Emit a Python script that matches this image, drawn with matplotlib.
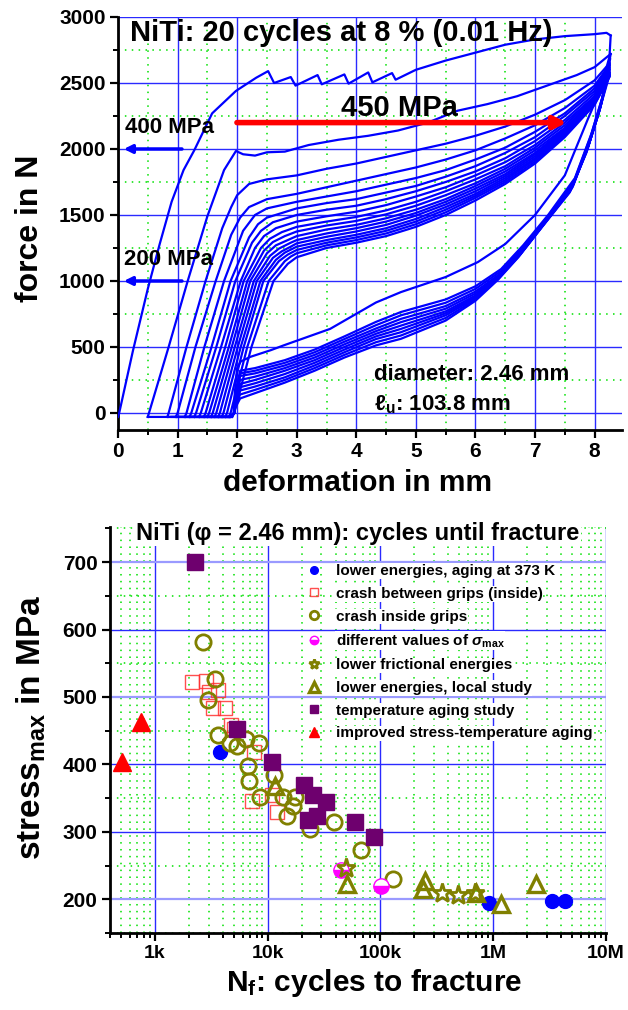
import matplotlib
matplotlib.use("Agg")
import matplotlib.pyplot as plt
from matplotlib.ticker import MultipleLocator, LogLocator, FixedLocator, NullFormatter

plt.rcParams["font.family"] = ["Liberation Sans", "DejaVu Sans"]
plt.rcParams["font.weight"] = "bold"
plt.rcParams["mathtext.fontset"] = "custom"
plt.rcParams["mathtext.rm"] = "Liberation Sans"
plt.rcParams["mathtext.it"] = "Liberation Sans:italic"
plt.rcParams["mathtext.bf"] = "Liberation Sans:bold"

CURVE = "#0000ff"
GRID_BLUE = "#2a2aff"
GRID_LIGHT = "#9a9aff"
GRID_GREEN = "#00e000"

# ---------------- top panel: force vs deformation (20 cycles) ----------------
# loading branches, (deformation mm, force N)
loading = [
    [(0, -30), (0.02, 0), (0.25, 470), (0.5, 940), (0.7, 1280), (0.9, 1600), (1.1, 1840),
     (1.28, 1990), (1.58, 2270), (1.98, 2440), (2.32, 2540), (2.52, 2590), (2.62, 2500),
     (2.9, 2545), (2.98, 2480), (3.35, 2560), (3.42, 2490), (3.8, 2565), (3.87, 2495),
     (4.2, 2580), (4.27, 2505), (4.6, 2575), (4.66, 2525), (5.0, 2600), (5.5, 2670),
     (6.0, 2730), (6.5, 2790), (7.0, 2830), (7.5, 2855), (8.0, 2870), (8.2, 2880), (8.27, 2860)],
    [(0.5, -30), (0.52, 0), (0.85, 500), (1.17, 1000), (1.5, 1490), (1.78, 1840), (1.98, 1985),
     (2.1, 1960), (2.3, 1950), (2.5, 1975), (2.8, 1980), (3.2, 2030), (3.7, 2070), (4.2, 2100),
     (4.7, 2140), (5.2, 2200), (5.7, 2290), (6.2, 2340), (6.7, 2400), (7.2, 2480), (7.7, 2560),
     (8.0, 2620), (8.27, 2720)],
    [(0.83, -30), (0.85, 0), (1.15, 500), (1.47, 1000), (1.75, 1400), (1.9, 1560), (2.0, 1650),
     (2.2, 1735), (2.5, 1770), (3.0, 1800), (3.5, 1850), (4.0, 1890), (4.5, 1940), (5.0, 1990),
     (5.5, 2040), (6.0, 2100), (6.5, 2170), (7.0, 2260), (7.5, 2370), (8.0, 2520), (8.25, 2650)],
    [(0.97, -30), (1.0, 0), (1.3, 500), (1.64, 1000), (1.9, 1350), (2.05, 1480), (2.2, 1560),
     (2.5, 1620), (3.0, 1660), (3.5, 1710), (4.0, 1760), (4.5, 1810), (5.0, 1860), (5.5, 1920),
     (6.0, 1990), (6.5, 2080), (7.0, 2180), (7.5, 2310), (8.0, 2480), (8.25, 2640)],
    [(1.12, -30), (1.15, 0), (1.45, 500), (1.78, 1000), (2.1, 1380), (2.3, 1500), (2.5, 1550),
     (3.0, 1600), (3.5, 1640), (4.0, 1680), (4.5, 1730), (5.0, 1780), (5.5, 1840), (6.0, 1920),
     (6.5, 2010), (7.0, 2130), (7.5, 2270), (8.0, 2460), (8.25, 2630)],
    [(1.2, -30), (1.23, 0), (1.57, 500), (1.89, 1000), (2.2, 1330), (2.35, 1430), (2.5, 1480),
     (3.0, 1550), (3.5, 1590), (4.0, 1620), (4.5, 1670), (5.0, 1720), (5.5, 1790), (6.0, 1870),
     (6.5, 1970), (7.0, 2090), (7.5, 2250), (8.0, 2440), (8.25, 2620)],
    [(1.28, -30), (1.31, 0), (1.65, 500), (1.97, 1000), (2.25, 1290), (2.4, 1380), (2.6, 1445),
     (3.0, 1500), (3.5, 1540), (4.0, 1570), (4.5, 1620), (5.0, 1680), (5.5, 1750), (6.0, 1830),
     (6.5, 1930), (7.0, 2060), (7.5, 2220), (8.0, 2420), (8.25, 2610)],
    [(1.36, -30), (1.39, 0), (1.73, 500), (2.06, 1000), (2.3, 1250), (2.45, 1340), (2.65, 1400),
     (3.0, 1450), (3.5, 1490), (4.0, 1525), (4.5, 1575), (5.0, 1640), (5.5, 1710), (6.0, 1800),
     (6.5, 1900), (7.0, 2030), (7.5, 2200), (8.0, 2400), (8.25, 2600)],
    [(1.44, -30), (1.47, 0), (1.8, 500), (2.11, 1000), (2.4, 1250), (2.55, 1320), (2.75, 1370),
     (3.0, 1410), (3.5, 1450), (4.0, 1485), (4.5, 1535), (5.0, 1600), (5.5, 1680), (6.0, 1770),
     (6.5, 1870), (7.0, 2010), (7.5, 2180), (8.0, 2390), (8.25, 2590)],
    [(1.5, -30), (1.53, 0), (1.86, 500), (2.17, 1000), (2.45, 1230), (2.6, 1295), (2.8, 1340),
     (3.0, 1375), (3.5, 1420), (4.0, 1455), (4.5, 1505), (5.0, 1570), (5.5, 1650), (6.0, 1740),
     (6.5, 1850), (7.0, 1990), (7.5, 2160), (8.0, 2380), (8.25, 2580)],
    [(1.56, -30), (1.59, 0), (1.91, 500), (2.22, 1000), (2.5, 1210), (2.65, 1270), (2.85, 1310),
     (3.0, 1340), (3.5, 1390), (4.0, 1425), (4.5, 1475), (5.0, 1540), (5.5, 1620), (6.0, 1720),
     (6.5, 1830), (7.0, 1970), (7.5, 2150), (8.0, 2370), (8.25, 2575)],
    [(1.62, -30), (1.65, 0), (1.96, 500), (2.28, 1000), (2.55, 1190), (2.7, 1245), (2.9, 1290),
     (3.0, 1310), (3.5, 1360), (4.0, 1400), (4.5, 1450), (5.0, 1515), (5.5, 1600), (6.0, 1700),
     (6.5, 1810), (7.0, 1960), (7.5, 2140), (8.0, 2360), (8.25, 2570)],
    [(1.68, -30), (1.71, 0), (2.01, 500), (2.33, 1000), (2.6, 1175), (2.75, 1225), (2.9, 1260),
     (3.0, 1285), (3.5, 1335), (4.0, 1375), (4.5, 1425), (5.0, 1495), (5.5, 1580), (6.0, 1680),
     (6.5, 1795), (7.0, 1945), (7.5, 2130), (8.0, 2355), (8.25, 2565)],
    [(1.74, -30), (1.77, 0), (2.06, 500), (2.39, 1000), (2.65, 1160), (2.8, 1215), (3.0, 1260),
     (3.5, 1310), (4.0, 1350), (4.5, 1400), (5.0, 1470), (5.5, 1560), (6.0, 1660), (6.5, 1780),
     (7.0, 1930), (7.5, 2120), (8.0, 2350), (8.25, 2560)],
    [(1.8, -30), (1.83, 0), (2.11, 500), (2.44, 1000), (2.7, 1150), (2.85, 1200), (3.0, 1235),
     (3.5, 1290), (4.0, 1330), (4.5, 1380), (5.0, 1450), (5.5, 1540), (6.0, 1645), (6.5, 1765),
     (7.0, 1920), (7.5, 2110), (8.0, 2345), (8.25, 2555)],
    [(1.86, -30), (1.89, 0), (2.17, 500), (2.53, 1000), (2.8, 1150), (2.9, 1185), (3.0, 1210),
     (3.5, 1270), (4.0, 1310), (4.5, 1360), (5.0, 1430), (5.5, 1520), (6.0, 1630), (6.5, 1750),
     (7.0, 1905), (7.5, 2100), (8.0, 2340), (8.25, 2550)],
    [(1.92, -30), (1.95, 0), (2.24, 500), (2.61, 1000), (2.85, 1130), (3.0, 1180),
     (3.5, 1250), (4.0, 1290), (4.5, 1340), (5.0, 1410), (5.5, 1500), (6.0, 1610), (6.5, 1735),
     (7.0, 1890), (7.5, 2090), (8.0, 2335), (8.25, 2545)],
]

# unloading branches, (deformation mm, force N)
unloading = [
    [(8.27, 2860), (8.25, 2700), (8.1, 2450), (7.89, 2230), (7.5, 1800), (7.0, 1500), (6.5, 1280),
     (6.04, 1143), (5.5, 1030), (4.75, 916), (4.33, 837), (3.56, 637), (2.78, 512), (2.56, 475),
     (2.22, 425), (2.06, 390), (2.0, 340), (1.96, 150), (1.94, 0), (1.9, -30), (0.5, -30)],
    [(8.27, 2720), (8.15, 2420), (7.95, 2120), (7.67, 1780), (7.22, 1500), (6.8, 1270),
     (6.43, 1090), (6.0, 960), (5.5, 860), (4.75, 765), (4.33, 690), (3.8, 580), (3.3, 480),
     (2.8, 400), (2.3, 340), (2.05, 320), (1.97, 150), (1.95, 0), (1.9, -30), (0.83, -30)],
    [(8.26, 2680), (8.13, 2390), (7.93, 2090), (7.66, 1760), (7.21, 1485), (6.8, 1255),
     (6.43, 1075), (6.0, 940), (5.5, 835), (4.75, 740), (4.33, 665), (3.8, 560), (3.3, 460),
     (2.8, 380), (2.3, 320), (2.05, 300), (1.97, 130), (1.95, 0), (1.9, -30), (0.9, -30)],
    [(8.25, 2650), (8.12, 2360), (7.92, 2060), (7.65, 1740), (7.2, 1470), (6.8, 1240),
     (6.43, 1060), (6.0, 920), (5.5, 810), (4.75, 713), (4.33, 640), (3.8, 540), (3.3, 440),
     (2.8, 360), (2.3, 300), (2.05, 280), (1.97, 120), (1.95, 0), (1.9, -30), (0.97, -30)],
    [(8.25, 2640), (8.11, 2340), (7.91, 2045), (7.64, 1725), (7.19, 1460), (6.79, 1230),
     (6.43, 1050), (6.0, 905), (5.5, 790), (4.75, 688), (4.33, 620), (3.8, 520), (3.3, 420),
     (2.8, 340), (2.3, 275), (2.05, 250), (1.97, 110), (1.95, 0), (1.9, -30), (1.12, -30)],
    [(8.25, 2630), (8.1, 2320), (7.9, 2030), (7.63, 1710), (7.18, 1450), (6.78, 1220),
     (6.43, 1045), (6.0, 890), (5.5, 770), (4.75, 662), (4.33, 600), (3.8, 500), (3.3, 400),
     (2.8, 320), (2.3, 250), (2.05, 220), (1.97, 100), (1.95, 0), (1.9, -30), (1.2, -30)],
    [(8.25, 2615), (8.09, 2305), (7.89, 2015), (7.61, 1700), (7.16, 1440), (6.76, 1210),
     (6.41, 1035), (6.0, 880), (5.5, 755), (4.75, 637), (4.33, 580), (3.8, 480), (3.3, 380),
     (2.8, 295), (2.3, 225), (2.05, 195), (1.97, 80), (1.95, 0), (1.9, -30), (1.36, -30)],
    [(8.25, 2600), (8.08, 2290), (7.88, 2000), (7.6, 1690), (7.15, 1430), (6.75, 1200),
     (6.4, 1030), (6.0, 870), (5.5, 740), (4.75, 612), (4.33, 560), (3.8, 460), (3.3, 360),
     (2.8, 270), (2.3, 200), (2.05, 170), (1.97, 60), (1.95, 0), (1.9, -30), (1.44, -30)],
    [(8.25, 2580), (8.07, 2275), (7.87, 1985), (7.59, 1680), (7.13, 1420), (6.73, 1190),
     (6.39, 1020), (6.0, 860), (5.5, 720), (4.75, 587), (4.33, 536), (3.8, 440), (3.3, 340),
     (2.8, 250), (2.3, 175), (2.05, 140), (1.97, 50), (1.95, 0), (1.9, -30), (1.56, -30)],
    [(8.25, 2560), (8.06, 2260), (7.86, 1970), (7.58, 1670), (7.12, 1410), (6.72, 1180),
     (6.38, 1010), (6.0, 850), (5.5, 700), (4.75, 562), (4.33, 512), (3.8, 420), (3.3, 320),
     (2.8, 230), (2.3, 150), (2.05, 110), (1.97, 40), (1.95, 0), (1.9, -30), (1.68, -30)],
]

# ---------------- bottom panel: cycles until fracture ----------------
blue_n = [3800, 920000, 3300000, 4300000]
blue_s = [418, 194, 197, 197]
sq_n = [2150, 2850, 3000, 3600, 3300, 4200, 4700, 5000, 7500, 7200, 12000, 11000]
sq_s = [522, 523, 508, 511, 483, 483, 458, 452, 419, 345, 329, 355]
circ_n = [2660, 3400, 2950, 3600, 4600, 5300, 6400, 8300, 6650, 6800, 8500, 11300,
          13600, 17400, 16700, 14800, 23500, 39000, 67000, 130000]
circ_s = [581, 527, 495, 443, 432, 427, 438, 432, 397, 376, 351, 385,
          352, 352, 338, 324, 304, 314, 273, 230]
mag_n = [45000, 102000]
mag_s = [243, 219]
star_n = [50000, 350000, 490000, 690000]
star_s = [247, 209, 207, 209]
tri_n = [11500, 51000, 246000, 240000, 700000, 1170000, 2400000]
tri_s = [368, 222, 227, 215, 210, 193, 222]
purple_n = [2250, 5300, 11000, 21000, 25000, 33000, 22600, 27500, 59000, 88000]
purple_s = [700, 452, 403, 370, 355, 344, 318, 323, 314, 293]
redtri_n = [510, 750]
redtri_s = [403, 463]

W, H = 628, 1010
fig = plt.figure(figsize=(W / 100, H / 100), dpi=100, facecolor="white")


def style_axis(ax):
    for side in ("top", "right"):
        ax.spines[side].set_visible(False)
    for side in ("left", "bottom"):
        ax.spines[side].set_linewidth(2.0)
    ax.tick_params(which="major", direction="out", length=6, width=1.6,
                   labelsize=15, pad=3)
    ax.tick_params(which="minor", direction="out", length=3.5, width=1.4)
    ax.grid(True, which="major", color=GRID_BLUE, linewidth=1.0, linestyle="-")
    ax.grid(True, which="minor", color=GRID_GREEN, linewidth=1.1, linestyle=(0, (1, 3.5)))
    ax.set_axisbelow(True)


# ---- top ----
ax1 = fig.add_axes([118 / W, 1 - 430 / H, (622 - 118) / W, (430 - 17) / H])
for pts in loading + unloading:
    xs = [p[0] for p in pts]
    fs = [p[1] for p in pts]
    ax1.plot(xs, fs, color=CURVE, lw=1.6, zorder=3)

ax1.set_xlim(0, 8.46)
ax1.set_ylim(-129, 3000)
ax1.xaxis.set_major_locator(MultipleLocator(1))
ax1.xaxis.set_minor_locator(MultipleLocator(0.5))
ax1.yaxis.set_major_locator(MultipleLocator(500))
ax1.yaxis.set_minor_locator(MultipleLocator(250))
style_axis(ax1)

ax1.text(0.2, 2985, "NiTi: 20 cycles at 8 % (0.01 Hz)", fontsize=21,
         fontweight="bold", va="top", ha="left", zorder=5)
ax1.annotate("", xy=(0.05, 2000), xytext=(1.12, 2000),
             arrowprops=dict(arrowstyle="-|>", color=CURVE, lw=2.5,
                             mutation_scale=12), zorder=5)
ax1.text(0.87, 2160, "400 MPa", fontsize=16, ha="center", va="center", zorder=5)
ax1.annotate("", xy=(0.05, 1000), xytext=(1.12, 1000),
             arrowprops=dict(arrowstyle="-|>", color=CURVE, lw=2.5,
                             mutation_scale=12), zorder=5)
ax1.text(0.85, 1160, "200 MPa", fontsize=16, ha="center", va="center", zorder=5)
ax1.annotate("", xy=(7.58, 2200), xytext=(1.95, 2200),
             arrowprops=dict(arrowstyle="-|>", color="#ff0000", lw=4,
                             mutation_scale=18), zorder=6)
ax1.text(4.73, 2310, "450 MPa", fontsize=21, ha="center", va="center", zorder=6)
ax1.text(4.3, 290, "diameter: 2.46 mm", fontsize=16, ha="left", va="center", zorder=6)
ax1.text(4.3, 60, "ℓ$_{\\rm u}$: 103.8 mm", fontsize=16, ha="left", va="center", zorder=6)

fig.text(358 / W, 1 - 483 / H, "deformation in mm", fontsize=21.5, ha="center", va="center")
fig.text(30 / W, 1 - 228 / H, "force in N", fontsize=23, ha="center", va="center",
         rotation=90)

# ---- bottom ----
ax2 = fig.add_axes([110 / W, 1 - 933 / H, (606 - 110) / W, (933 - 527) / H])
ax2.set_xscale("log")
ax2.set_xlim(400, 1e7)
ax2.set_ylim(150, 752)
ax2.xaxis.set_major_locator(FixedLocator([1e3, 1e4, 1e5, 1e6, 1e7]))
ax2.set_xticklabels(["1k", "10k", "100k", "1M", "10M"])
ax2.xaxis.set_minor_locator(LogLocator(base=10, subs=range(2, 10)))
ax2.xaxis.set_minor_formatter(NullFormatter())
ax2.yaxis.set_major_locator(MultipleLocator(100))
ax2.yaxis.set_minor_locator(MultipleLocator(50))
style_axis(ax2)
ax2.tick_params(axis="x", which="major", labelsize=14)
ax2.set_yticks([200, 300, 400, 500, 600, 700])
for val, gl in zip(ax2.get_yticks(), ax2.yaxis.get_gridlines()):
    if val in (200, 500, 700):
        gl.set_color(GRID_LIGHT)
        gl.set_linewidth(1.6)

ax2.plot(blue_n, blue_s, "o", ms=10, color="#0000ff", mec="#0000ff", zorder=4,
         label="lower energies, aging at 373 K")
ax2.plot(sq_n, sq_s, "s", ms=10, mfc="none", mec="#ff3030", mew=1.0, alpha=0.85, zorder=4,
         label="crash between grips (inside)")
ax2.plot(circ_n, circ_s, "o", ms=11, mfc="none", mec="#808000", mew=2.0, zorder=4,
         label="crash inside grips")
ax2.plot(mag_n, mag_s, "o", ms=11, color="#ff00ff", mec="#ff00ff",
         fillstyle="bottom", markerfacecoloralt="white", zorder=5,
         label="different values of $\\sigma_{\\rm max}$")
ax2.plot(star_n, star_s, "*", ms=14, mfc="none", mec="#808000", mew=2.0, zorder=5,
         label="lower frictional energies")
ax2.plot(tri_n, tri_s, "^", ms=12, mfc="none", mec="#808000", mew=2.4, zorder=5,
         label="lower energies, local study")
ax2.plot(purple_n, purple_s, "s", ms=11, color="#6e006e", mec="#6e006e", zorder=4,
         label="temperature aging study")
ax2.plot(redtri_n, redtri_s, "^", ms=13, color="#ff0000", mec="#ff0000", zorder=4,
         label="improved stress-temperature aging")

leg = ax2.legend(loc="upper left", bbox_to_anchor=(0.375, 0.935), frameon=False,
                 fontsize=11, markerscale=0.55, handlelength=0.9, handletextpad=1.0,
                 labelspacing=0.57, borderpad=0.2)
for t in leg.get_texts():
    t.set_bbox(dict(facecolor="white", edgecolor="none", pad=0.5))

ax2.text(0.5, 0.985, "NiTi (φ = 2.46 mm): cycles until fracture", transform=ax2.transAxes,
         fontsize=17, ha="center", va="center", zorder=6,
         bbox=dict(facecolor="white", edgecolor="none", pad=1))

fig.text(374 / W, 1 - 983 / H, "N$_{\\rm f}$: cycles to fracture", fontsize=21.5,
         ha="center", va="center")
fig.text(31 / W, 1 - 727 / H, "stress$_{\\rm max}$ in MPa", fontsize=24, ha="center",
         va="center", rotation=90)

fig.savefig("out.png", dpi=100, facecolor="white")
